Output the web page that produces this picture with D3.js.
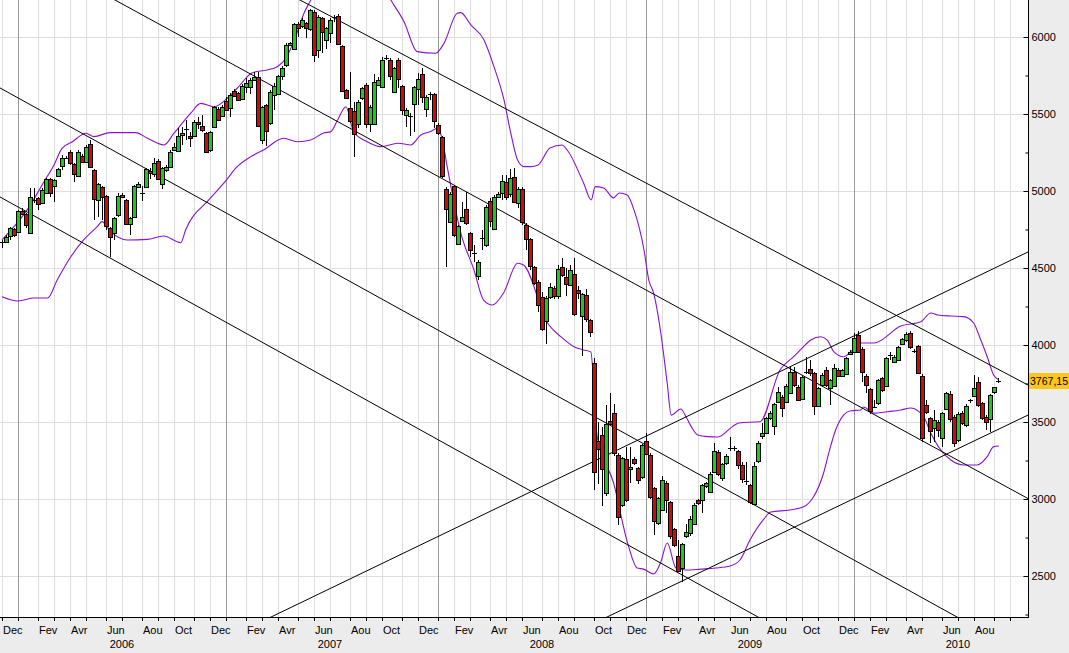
<!DOCTYPE html>
<html>
<head>
<meta charset="utf-8">
<script src="https://cdn.jsdelivr.net/npm/d3@7"></script>
<style>
  body { margin: 0; background: #fff; }
  svg { display: block; font-family: "Liberation Sans", Arial, sans-serif; font-size: 11px; }
</style>
</head>
<body>
<svg id="chart" width="1069" height="653"></svg>
<script>
// weekly bars, dated by their Monday (first bar = week of 5 Dec 2005)
const firstWeek = new Date(2005, 11, 5);
const weeks = d3.timeMonday.range(firstWeek, new Date(2010, 8, 14));

const open = [
  4663, 4671, 4704, 4756, 4732, 4872, 4849, 4725, 4950, 4952, 4920, 4985, 5080, 5033, 5093, 5167,
  5225, 5251, 5173, 5100, 5230, 5191, 5305, 5136, 4942, 5024, 4965, 4758, 4725, 4842, 4972, 4942,
  4788, 4829, 5024, 4983, 5024, 5132, 5110, 5197, 5046, 5136, 5158, 5266, 5262, 5363, 5395, 5357,
  5357, 5445, 5422, 5379, 5270, 5413, 5534, 5487, 5584, 5537, 5649, 5634, 5595, 5673, 5673, 5721,
  5738, 5331, 5556, 5439, 5623, 5627, 5747, 5816, 5946, 5920, 6084, 6071, 6093, 6050, 6164, 5915,
  6121, 5976, 6024, 6125, 6136, 5941, 5656, 5537, 5519, 5435, 5602, 5688, 5435, 5435, 5688, 5673,
  5858, 5851, 5638, 5851, 5682, 5494, 5500, 5563, 5660, 5760, 5537, 5625, 5628, 5429, 5348, 5011,
  4795, 5033, 4656, 4807, 4881, 4730, 4602, 4448, 4691, 4649, 4937, 4758, 4963, 4989, 5061, 4980,
  5093, 4920, 5011, 4779, 4686, 4504, 4407, 4310, 4152, 4314, 4368, 4314, 4509, 4444, 4390, 4461,
  4357, 4188, 4325, 4162, 3885, 3379, 3416, 3037, 3509, 3556, 3286, 2961, 3258, 3195, 3258, 3199,
  3145, 3379, 3286, 3069, 2842, 2929, 3106, 2978, 2803, 2630, 2550, 2760, 2780, 2840, 2993, 2993,
  3084, 3048, 3177, 3307, 3134, 3232, 3330, 3327, 3312, 3221, 3121, 3091, 2972, 3249, 3409, 3426,
  3524, 3474, 3632, 3665, 3632, 3690, 3827, 3729, 3654, 3825, 3842, 3816, 3604, 3740, 3838, 3719,
  3734, 3838, 3799, 3812, 3942, 3950, 4068, 3972, 3798, 3712, 3597, 3621, 3783, 3734, 3929, 3892,
  3907, 4006, 4030, 4076, 3965, 3993, 3798, 3608, 3524, 3459, 3502, 3394, 3582, 3680, 3535, 3383,
  3560, 3480, 3636, 3669, 3762, 3621, 3534, 3517, 3690, 3765
];
const high = [
  4682, 4714, 4768, 4760, 4877, 4888, 4859, 5017, 5017, 4963, 5017, 5082, 5087, 5076, 5147, 5234,
  5230, 5266, 5180, 5266, 5240, 5297, 5331, 5141, 5054, 5033, 4974, 4768, 4833, 4985, 4985, 4946,
  4833, 5039, 5061, 5033, 5147, 5147, 5212, 5206, 5158, 5169, 5266, 5314, 5407, 5418, 5461, 5385,
  5461, 5480, 5493, 5385, 5392, 5551, 5547, 5560, 5608, 5634, 5660, 5645, 5695, 5731, 5731, 5775,
  5775, 5551, 5565, 5656, 5700, 5754, 5811, 5963, 5965, 6090, 6099, 6120, 6100, 6180, 6175, 6140,
  6130, 6065, 6120, 6140, 6149, 5945, 5660, 5775, 5580, 5590, 5678, 5699, 5558, 5760, 5740, 5868,
  5883, 5861, 5807, 5861, 5688, 5537, 5505, 5682, 5764, 5797, 5623, 5645, 5638, 5440, 5357, 5028,
  4996, 5039, 4779, 4931, 4996, 4736, 4649, 4552, 4747, 4909, 4952, 4974, 4996, 5104, 5104, 5141,
  5147, 5024, 5028, 4790, 4693, 4515, 4420, 4346, 4320, 4400, 4380, 4520, 4563, 4500, 4520, 4563,
  4380, 4340, 4361, 4170, 3913, 3500, 3470, 3610, 3686, 3617, 3300, 3270, 3340, 3340, 3270, 3210,
  3360, 3431, 3300, 3080, 3010, 3150, 3115, 2990, 2810, 2734, 2715, 2838, 2890, 2975, 3000, 3100,
  3110, 3177, 3362, 3320, 3235, 3290, 3400, 3345, 3320, 3242, 3242, 3100, 3242, 3375, 3491, 3535,
  3570, 3625, 3729, 3675, 3745, 3859, 3859, 3740, 3800, 3924, 3903, 3825, 3725, 3815, 3859, 3780,
  3877, 3850, 3845, 3920, 3965, 4076, 4093, 3985, 3810, 3720, 3643, 3780, 3795, 3925, 3957, 3935,
  3995, 4045, 4085, 4093, 3975, 4000, 3810, 3643, 3535, 3578, 3515, 3565, 3695, 3700, 3545, 3565,
  3570, 3615, 3650, 3805, 3794, 3630, 3545, 3685, 3730, 3783
];
const low = [
  4628, 4665, 4682, 4700, 4725, 4851, 4758, 4719, 4920, 4877, 4916, 4978, 4963, 4931, 5089, 5136,
  5210, 5169, 5061, 5098, 5190, 5180, 5152, 4812, 4833, 4812, 4747, 4574, 4682, 4833, 4957, 4779,
  4714, 4827, 5017, 4937, 5017, 5080, 5093, 5072, 5015, 5126, 5154, 5262, 5256, 5300, 5331, 5288,
  5350, 5400, 5385, 5244, 5255, 5407, 5455, 5483, 5521, 5478, 5612, 5586, 5591, 5634, 5630, 5715,
  5418, 5305, 5292, 5430, 5526, 5623, 5721, 5807, 5940, 5915, 6002, 6060, 5991, 6040, 5840, 5861,
  5894, 5920, 5959, 6100, 5950, 5645, 5595, 5440, 5219, 5407, 5591, 5407, 5385, 5428, 5680, 5667,
  5850, 5721, 5634, 5667, 5494, 5418, 5357, 5385, 5559, 5569, 5483, 5591, 5407, 5364, 5082, 4509,
  4790, 4703, 4649, 4801, 4779, 4574, 4541, 4422, 4617, 4638, 4768, 4747, 4952, 4941, 4941, 4963,
  4920, 4887, 4779, 4617, 4490, 4390, 4217, 4090, 4006, 4300, 4300, 4300, 4440, 4320, 4380, 4190,
  4300, 3929, 4150, 4050, 3058, 3100, 2955, 3020, 3480, 3280, 2831, 2950, 2980, 3102, 3220, 3100,
  3130, 3290, 3000, 2766, 2831, 2920, 2907, 2740, 2690, 2528, 2463, 2750, 2760, 2830, 2960, 2907,
  3070, 3040, 3170, 3150, 3119, 3220, 3315, 3315, 3193, 3102, 3091, 2967, 2965, 3232, 3387, 3420,
  3510, 3416, 3625, 3535, 3625, 3680, 3730, 3640, 3640, 3810, 3800, 3545, 3595, 3730, 3725, 3610,
  3725, 3790, 3790, 3805, 3935, 3945, 3945, 3762, 3686, 3552, 3590, 3610, 3695, 3725, 3903, 3880,
  3900, 4000, 4020, 3975, 3950, 3810, 3372, 3550, 3361, 3372, 3405, 3340, 3575, 3500, 3340, 3370,
  3480, 3470, 3625, 3660, 3600, 3510, 3448, 3437, 3680, 3755
];
const close = [
  4667, 4704, 4758, 4714, 4870, 4855, 4775, 4959, 4942, 4916, 5007, 5076, 4991, 5072, 5141, 5217,
  5217, 5180, 5106, 5256, 5193, 5288, 5154, 4946, 5048, 4957, 4768, 4699, 4825, 4965, 4959, 4786,
  4827, 5033, 5043, 4987, 5141, 5119, 5184, 5078, 5147, 5158, 5253, 5284, 5357, 5379, 5400, 5344,
  5450, 5430, 5396, 5255, 5385, 5543, 5461, 5547, 5526, 5623, 5619, 5591, 5682, 5699, 5721, 5738,
  5422, 5543, 5385, 5643, 5682, 5747, 5796, 5946, 5959, 6084, 6056, 6110, 6060, 6175, 5883, 6127,
  6028, 6056, 6110, 6128, 5954, 5651, 5602, 5450, 5370, 5576, 5667, 5435, 5543, 5706, 5721, 5851,
  5861, 5747, 5797, 5725, 5526, 5526, 5490, 5673, 5725, 5608, 5612, 5628, 5450, 5379, 5093, 4881,
  4980, 4712, 4773, 4833, 4790, 4621, 4598, 4539, 4695, 4898, 4807, 4963, 4980, 5067, 4963, 5082,
  4931, 5011, 4794, 4686, 4508, 4400, 4260, 4102, 4303, 4379, 4314, 4491, 4455, 4400, 4487, 4201,
  4336, 4331, 4167, 4087, 3177, 3329, 3193, 3487, 3491, 3297, 2885, 3264, 2989, 3210, 3232, 3119,
  3351, 3297, 3015, 2853, 3004, 3123, 2998, 2755, 2702, 2535, 2708, 2788, 2870, 2961, 2972, 3091,
  3102, 3162, 3314, 3167, 3227, 3279, 3333, 3329, 3221, 3128, 3119, 2983, 3216, 3366, 3426, 3524,
  3556, 3617, 3697, 3595, 3734, 3827, 3740, 3647, 3794, 3827, 3816, 3604, 3719, 3805, 3740, 3773,
  3848, 3799, 3838, 3913, 3957, 4043, 3960, 3824, 3740, 3567, 3600, 3772, 3703, 3913, 3933, 3924,
  3989, 4037, 4070, 3985, 3961, 3820, 3394, 3560, 3437, 3513, 3452, 3556, 3686, 3520, 3366, 3552,
  3495, 3606, 3640, 3718, 3610, 3524, 3502, 3675, 3725, 3767
];

// Bollinger bands: position in weeks from the first bar, value
const bandUpperWeek = [0, 3, 6.3, 10.5, 13, 15, 17.6, 21, 23, 27, 33.4, 36.4, 40.5, 43, 44.7, 47.2, 49.7,
  53, 56.3, 58.8, 62.6, 66.3, 68.8, 71, 73.4, 75.5, 77.2, 80, 84, 89, 94, 97.2, 100.5, 103.8, 108.4,
  110.5, 113.8, 114.7, 117.2, 120.5, 123, 125.5, 127.2, 128.9, 130.5, 132.2, 134, 137, 140, 141.3,
  145.4, 147.3, 148.3, 150.4, 152.9, 154.3, 156.3, 158, 160.5, 161.7, 162.9, 164.7, 166.3, 167.3,
  169.7, 171, 172.3, 173.9, 176.4, 179, 182.6, 184.2, 189.5, 194.5, 197.9, 200.1, 202.2, 204.7,
  206.3, 208, 210.4, 212.2, 214.7, 218, 224.7, 229.7, 232.2, 233.9, 237.2, 240.4, 242.9, 244.7,
  246.3, 247.9, 249.25];
const bandUpper = [4682, 4768, 4877, 5060, 5169, 5277, 5320, 5375, 5353, 5379, 5379, 5342, 5299, 5375,
  5429, 5505, 5569, 5547, 5602, 5667, 5768, 5786, 5807, 5862, 6002, 6154, 6240, 6380, 6480, 6480,
  6380, 6240, 6099, 5905, 5894, 5959, 6154, 6158, 6078, 5981, 5807, 5591, 5375, 5201, 5158, 5158,
  5169, 5279, 5299, 5266, 5052, 4942, 5028, 5019, 4955, 4987, 4974, 4877, 4617, 4422, 4338, 4078,
  3753, 3545, 3584, 3534, 3470, 3416, 3405, 3403, 3470, 3494, 3502, 3838, 3924, 3981, 4032, 4054,
  4032, 3956, 3924, 3956, 4013, 4013, 4123, 4151, 4208, 4195, 4188, 4184, 4143, 4032, 3924, 3805,
  3773];
const bandLowerWeek = [0, 4, 8, 11.4, 13.8, 17.2, 20.4, 23.8, 25, 27.2, 31.3, 36.3, 40.4, 44.7, 45.9,
  51.7, 55.5, 58.8, 62.2, 65.4, 70.4, 73.8, 77.2, 80.4, 82.2, 83.9, 86, 87.9, 91.3, 94.7, 99, 102.2,
  104.7, 107, 108.9, 110, 111.3, 114.7, 118, 120.4, 122.6, 125.4, 128.9, 130.4, 136.4, 139.7, 143,
  145.4, 147.2, 148.8, 152.9, 156.4, 158.8, 160.4, 162.9, 164.7, 166.3, 168.5, 171, 174.7, 178.4,
  182, 184.5, 187, 190.3, 192.2, 197, 200.4, 202.9, 205.4, 206.7, 208.4, 210.4, 212.2, 214.7, 215.4,
  217.9, 221.3, 224.7, 227.2, 230.4, 232.2, 234.7, 237.2, 240.4, 243.8, 246.3, 247.9, 249.25];
const bandLower = [4314, 4286, 4305, 4305, 4422, 4573, 4682, 4768, 4801, 4736, 4682, 4686, 4708, 4664,
  4747, 4942, 5052, 5158, 5223, 5266, 5342, 5320, 5331, 5377, 5385, 5461, 5547, 5385, 5320, 5288,
  5310, 5299, 5364, 5385, 5407, 5342, 5158, 4727, 4487, 4292, 4260, 4338, 4531, 4519, 4141, 4054,
  3989, 3968, 3955, 3405, 3104, 2714, 2552, 2545, 2513, 2591, 2714, 2552, 2539, 2545, 2552, 2565,
  2604, 2734, 2864, 2916, 2929, 2950, 3015, 3169, 3299, 3448, 3545, 3573, 3578, 3597, 3558, 3567,
  3578, 3591, 3534, 3429, 3318, 3253, 3221, 3221, 3275, 3340, 3344];

// hand drawn trend lines: [week, value, week, value]
const trendLines = [
  [74.5, 6240, 256.5, 3740],
  [28.25, 6240, 256.5, 3003],
  [-0.5, 5669, 238.75, 2234],
  [-0.5, 4961, 189, 2234],
  [67.75, 2240, 256.5, 4604],
  [151.75, 2240, 256.5, 3545]
];

const priceTicks = [2500, 3000, 3500, 4000, 4500, 5000, 5500, 6000];
const minorTicks = [2250, 2750, 3250, 3750, 4250, 4750, 5250, 5750, 6250];
const monthNames = ['Jan', 'Fev', 'Mar', 'Avr', 'Mai', 'Jun', 'Jul', 'Aou', 'Sep', 'Oct', 'Nov', 'Dec'];
const lastPrice = '3767,15';

const W = 1069, H = 653;
const plotW = 1028, plotH = 617;
const green = '#1ec81e', red = '#cc0c0c', purple = '#8a12d0';

const svg = d3.select('#chart');
const x = d3.scaleLinear().domain([-0.5, 256.5]).range([0, plotW]);
const y = d3.scaleLinear().domain([2234, 6240]).range([plotH, 0]);

svg.append('rect').attr('width', W).attr('height', H).attr('fill', '#ececec');
svg.append('rect').attr('width', plotW).attr('height', plotH).attr('fill', '#fff');

svg.append('defs').append('clipPath').attr('id', 'plot')
  .append('rect').attr('width', plotW).attr('height', plotH);

// month starts: first weekly bar falling in each month
const allWeeks = d3.timeMonday.range(firstWeek, new Date(2010, 10, 1));
const months = [];
allWeeks.forEach((d, i) => {
  if (i === 0 || d.getMonth() !== allWeeks[i - 1].getMonth()) months.push({date: d, i});
});

const grid = svg.append('g').attr('shape-rendering', 'crispEdges');
grid.selectAll('.hgrid').data(priceTicks).join('line')
  .attr('x1', 0).attr('x2', plotW)
  .attr('y1', (d) => Math.round(y(d)) + 0.5).attr('y2', (d) => Math.round(y(d)) + 0.5)
  .attr('stroke', '#dedede');
grid.selectAll('.vgrid').data(months).join('line')
  .attr('x1', (d) => Math.round(x(d.i)) + 0.5).attr('x2', (d) => Math.round(x(d.i)) + 0.5)
  .attr('y1', 0).attr('y2', plotH)
  .attr('stroke', (d) => (d.date.getMonth() === 0 ? '#9a9a9a' : '#dedede'));

const plot = svg.append('g').attr('clip-path', 'url(#plot)');

// bollinger bands
const bandLine = d3.line().curve(d3.curveMonotoneX).x((d) => x(d[0])).y((d) => y(d[1]));
plot.append('path').attr('d', bandLine(d3.zip(bandUpperWeek, bandUpper)))
  .attr('fill', 'none').attr('stroke', purple).attr('stroke-width', 1.1);
plot.append('path').attr('d', bandLine(d3.zip(bandLowerWeek, bandLower)))
  .attr('fill', 'none').attr('stroke', purple).attr('stroke-width', 1.1);

// trend lines, extended over the whole plot
const [d0, d1] = x.domain();
plot.selectAll('.trend').data(trendLines).join('line')
  .attr('x1', x(d0)).attr('x2', x(d1))
  .attr('y1', (t) => y(t[1] + ((t[3] - t[1]) * (d0 - t[0])) / (t[2] - t[0])))
  .attr('y2', (t) => y(t[1] + ((t[3] - t[1]) * (d1 - t[0])) / (t[2] - t[0])))
  .attr('stroke', '#000').attr('stroke-width', 1);

// candles
const bars = weeks.map((d, i) => ({i, o: open[i], h: high[i], l: low[i], c: close[i]}));
const cx = (d) => Math.round(x(d.i));
const candle = plot.append('g').attr('shape-rendering', 'crispEdges')
  .selectAll('g').data(bars).join('g');
candle.append('line')
  .attr('x1', (d) => cx(d) + 0.5).attr('x2', (d) => cx(d) + 0.5)
  .attr('y1', (d) => y(d.h)).attr('y2', (d) => y(d.l))
  .attr('stroke', '#000');
candle.filter((d) => Math.abs(y(d.o) - y(d.c)) >= 2).append('rect')
  .attr('x', (d) => cx(d) - 1.5)
  .attr('y', (d) => Math.round(y(Math.max(d.o, d.c))) + 0.5)
  .attr('width', 4)
  .attr('height', (d) => Math.round(Math.abs(y(d.o) - y(d.c))))
  .attr('fill', (d) => (d.c >= d.o ? green : red))
  .attr('stroke', '#000');
candle.filter((d) => Math.abs(y(d.o) - y(d.c)) < 2).append('line')
  .attr('x1', (d) => cx(d) - 2).attr('x2', (d) => cx(d) + 3)
  .attr('y1', (d) => Math.round(y(d.c)) + 0.5).attr('y2', (d) => Math.round(y(d.c)) + 0.5)
  .attr('stroke', '#000');

// price axis on the right
const yAxis = svg.append('g').attr('transform', `translate(${plotW + 0.5},0)`)
  .call(d3.axisRight(y).tickValues(priceTicks).tickSize(-5).tickPadding(3).tickFormat(d3.format('d')));
yAxis.select('.domain').remove();
yAxis.selectAll('text').attr('font-size', 11).attr('font-family', '"Liberation Sans", Arial, sans-serif').attr('fill', '#000');
svg.append('g').attr('transform', `translate(${plotW + 0.5},0)`)
  .call(d3.axisRight(y).tickValues(minorTicks).tickSize(-3).tickFormat(''))
  .select('.domain').remove();
svg.append('line').attr('x1', plotW + 0.5).attr('x2', plotW + 0.5).attr('y1', 0).attr('y2', plotH + 1)
  .attr('stroke', '#000');

// last price marker
const lastY = Math.round(y(close[close.length - 1]));
svg.append('rect').attr('x', plotW + 1).attr('y', lastY - 8).attr('width', W - plotW - 1).attr('height', 16)
  .attr('fill', '#ffc61a');
svg.append('text').attr('x', plotW + 2).attr('y', lastY).attr('dy', '0.35em')
  .attr('font-size', 10.5).attr('textLength', 38).text(lastPrice);

// time axis
svg.append('line').attr('x1', 0).attr('x2', plotW + 1).attr('y1', plotH + 0.5).attr('y2', plotH + 0.5)
  .attr('stroke', '#000');
svg.append('g').attr('shape-rendering', 'crispEdges').selectAll('line').data(months).join('line')
  .attr('x1', (d) => Math.round(x(d.i)) + 0.5).attr('x2', (d) => Math.round(x(d.i)) + 0.5)
  .attr('y1', plotH).attr('y2', plotH + 4).attr('stroke', '#000');
svg.append('g').selectAll('text')
  .data(months.filter((d) => d.date.getMonth() % 2 === 1 && x(d.i) < plotW - 25))
  .join('text')
  .attr('x', (d) => Math.round(x(d.i)) + 1).attr('y', 634)
  .text((d) => monthNames[d.date.getMonth()]);

const yearStarts = months.filter((d) => d.date.getMonth() === 0);
svg.append('g').selectAll('text').data(yearStarts).join('text')
  .attr('x', (d) => x(d.i + 26)).attr('y', 648).attr('text-anchor', 'middle')
  .text((d) => d.date.getFullYear());
</script>
</body>
</html>
